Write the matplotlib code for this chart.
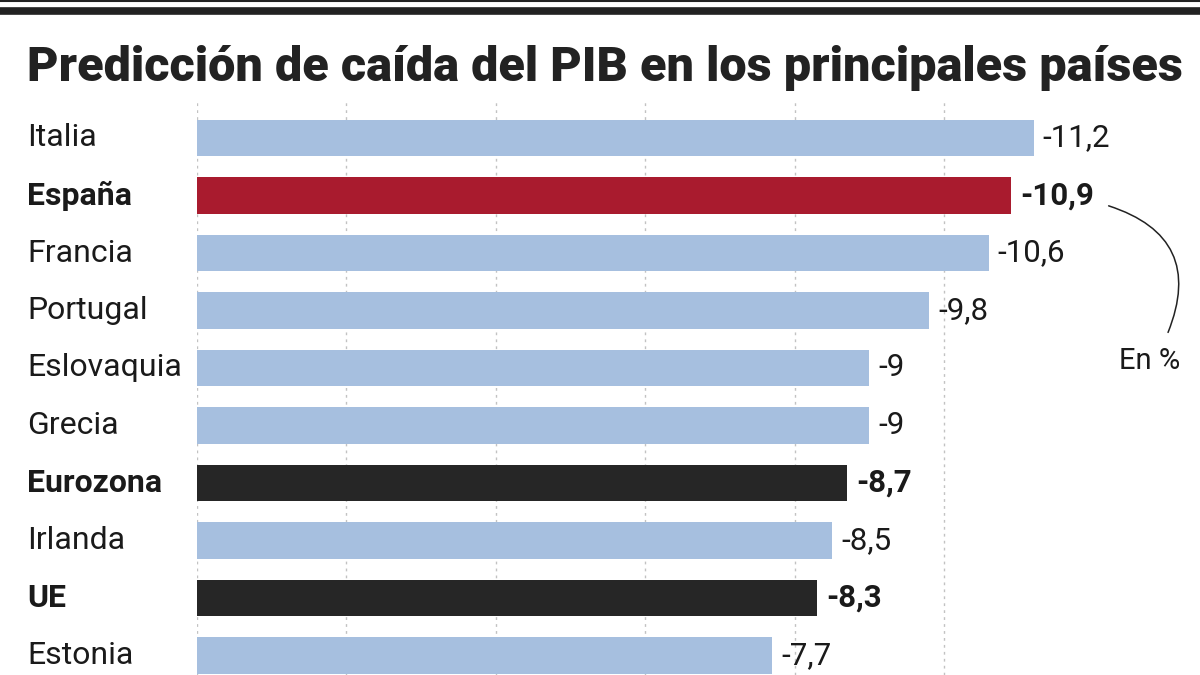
import matplotlib
matplotlib.use("Agg")
import matplotlib.pyplot as plt
from matplotlib.patches import FancyArrowPatch

countries = ["Italia", "España", "Francia", "Portugal", "Eslovaquia",
             "Grecia", "Eurozona", "Irlanda", "UE", "Estonia"]
values = [-11.2, -10.9, -10.6, -9.8, -9.0, -9.0, -8.7, -8.5, -8.3, -7.7]
value_labels = ["-11,2", "-10,9", "-10,6", "-9,8", "-9", "-9", "-8,7", "-8,5", "-8,3", "-7,7"]
highlight = ["normal", "spain", "normal", "normal", "normal",
             "normal", "agg", "normal", "agg", "normal"]
grid_ticks = [0, 2, 4, 6, 8, 10]

W, H = 1200, 675
FONT = ["Roboto", "DejaVu Sans"]
colors = {"normal": "#a6bfdf", "spain": "#a91b2e", "agg": "#262626"}

fig = plt.figure(figsize=(12, 6.75), dpi=100)
fig.patch.set_facecolor("white")

# axes placed in pixel terms: x=0 at 197px, 74.7 px per point
ax_left, ax_top, ax_bottom = 197, 100, 675
ax = fig.add_axes([ax_left / W, 0, (W - ax_left) / W, (H - ax_top) / H])
px_per_unit = 74.7
row_h = 57.5
first_center = 138
ax.set_xlim(0, (W - ax_left) / px_per_unit)
ax.set_ylim((ax_bottom - first_center) / row_h, (ax_top - first_center) / row_h)
ax.axis("off")

for g in grid_ticks:
    ax.axvline(g, color="#c2c2c2", lw=1.0, ls=(0, (2, 3)), zorder=0)

mags = [abs(v) for v in values]
ax.barh(range(len(countries)), mags, height=0.63,
        color=[colors[h] for h in highlight], zorder=2)

for i, (name, m, lab, h) in enumerate(zip(countries, mags, value_labels, highlight)):
    bold = h != "normal"
    fig.text(27 / W, 1 - (first_center + row_h * i) / H, name,
             ha="left", va="center", fontsize=23, family=FONT,
             fontweight="bold" if bold else "normal", color="#1a1a1a")
    ax.text(m + 9 / px_per_unit, i, lab, ha="left", va="center",
            fontsize=22.5, family=FONT,
            fontweight="bold" if bold else "normal", color="#1a1a1a")

# title and top rules
fig.text(27 / W, 1 - 68 / H, "Predicción de caída del PIB en los principales países",
         ha="left", va="center", fontsize=35, fontweight="black",
         family=FONT, color="#222222")
fig.add_artist(plt.Line2D([0, 1], [1 - 0.5 / H, 1 - 0.5 / H], color="#222222", lw=1.5))
fig.add_artist(plt.Line2D([0, 1], [1 - 11 / H, 1 - 11 / H], color="#222222", lw=5.5))

# "En %" note with curved connector
fig.text(1150 / W, 1 - 361 / H, "En %", ha="center", va="center",
         fontsize=21, family=FONT, color="#1a1a1a")
arc = FancyArrowPatch((1106 / W, 1 - 205 / H), (1167 / W, 1 - 335 / H),
                      transform=fig.transFigure, arrowstyle="-",
                      connectionstyle="arc3,rad=-0.55", color="#222222", lw=1.1)
fig.add_artist(arc)

fig.savefig("out.png", dpi=100)
